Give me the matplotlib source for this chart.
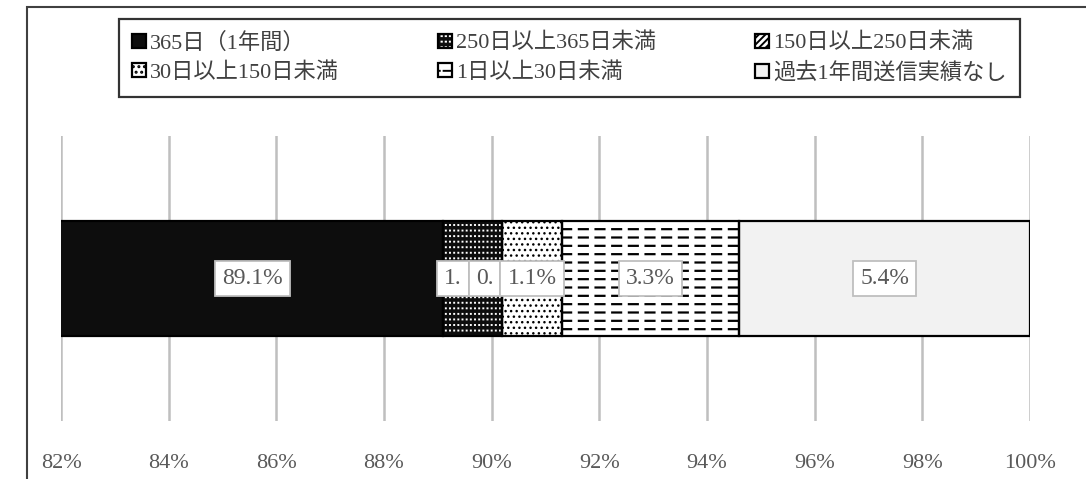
import matplotlib
matplotlib.use("Agg")
import matplotlib.pyplot as plt
from matplotlib.patches import Rectangle
from matplotlib.ticker import FuncFormatter

plt.rcParams['font.family'] = ['Liberation Serif', 'Noto Sans CJK JP']
plt.rcParams['hatch.linewidth'] = 1.4

# ----------------------------
# data: share of days per send-frequency bucket
# ----------------------------
categories = ['365日（1年間）', '250日以上365日未満', '150日以上250日未満',
              '30日以上150日未満', '1日以上30日未満', '過去1年間送信実績なし']
values = [89.1, 1.1, 0.0, 1.1, 3.3, 5.4]
label_text = ['89.1%', '1.', '0.', '1.1%', '3.3%', '5.4%']
x_ticks = [82, 84, 86, 88, 90, 92, 94, 96, 98, 100]
x_min, x_max = 82, 100

# fill colour and hatch layers (pattern, colour, hatch width) for each bucket
faces = ['#0d0d0d', '#0d0d0d', 'white', 'white', 'white', '#f2f2f2']
hatches = [
    [],
    [('---', 'white', 1.4), ('||||', '#0d0d0d', 1.6)],
    [('/////', 'black', 1.4)],
    [('...', 'black', 1.0)],
    [('--', 'black', 1.6), ('|', 'white', 4.0)],
    [],
]

fig = plt.figure(figsize=(10.86, 4.79), dpi=100)
W, H = 1086, 479
ax = fig.add_axes([61 / W, 1 - 421 / H, (1030 - 61) / W, (421 - 136) / H])

# outer chart frame (runs off the right and bottom edge)
fig.patches.append(Rectangle((27 / W, -0.1), 1.2, 1 - 7 / H + 0.1,
                             transform=fig.transFigure, fill=False,
                             edgecolor='#404040', linewidth=1.5, zorder=0))

bar_h = 0.4035
left = 0.0
handles = []
for i, v in enumerate(values):
    layers = []
    base = ax.barh(0, v, left=left, height=bar_h, color=faces[i],
                   linewidth=0, zorder=2)
    layers.append(base[0])
    for pat, col, hw in hatches[i]:
        with plt.rc_context({'hatch.linewidth': hw}):
            hb = ax.barh(0, v, left=left, height=bar_h, color='none',
                         edgecolor=col, hatch=pat, linewidth=0, zorder=3)
        layers.append(hb[0])
    ob = ax.barh(0, v, left=left, height=bar_h, color='none',
                 edgecolor='black', linewidth=1.6, zorder=4)
    layers.append(ob[0])
    handles.append(tuple(layers))
    left += v

# data labels centred on the visible part of each segment
label_objs = []
left = 0.0
for i, v in enumerate(values):
    lo = max(left, x_min)
    hi = min(left + v, x_max)
    t = ax.text((lo + hi) / 2, 0, label_text[i], ha='center', va='center',
                fontsize=17, color='#595959', zorder=6,
                bbox=dict(boxstyle='square,pad=0.3', facecolor='white',
                          edgecolor='#bfbfbf', linewidth=1.3))
    label_objs.append(t)
    left += v

ax.set_xlim(x_min, x_max)
ax.set_ylim(-0.5, 0.5)
ax.set_xticks(x_ticks)
ax.xaxis.set_major_formatter(FuncFormatter(lambda x, p: f'{x:.0f}%'))
ax.set_yticks([])
ax.tick_params(axis='x', length=0, pad=24, labelsize=16, labelcolor='#595959')
ax.grid(axis='x', color='#bfbfbf', linewidth=1.8, zorder=1)
ax.set_axisbelow(True)
for s in ax.spines.values():
    s.set_visible(False)

# legend reads row by row: reorder for matplotlib's column-wise fill
order = [0, 3, 1, 4, 2, 5]
leg = fig.legend([handles[k] for k in order], [categories[k] for k in order],
                 loc='lower left', ncol=3, mode='expand',
                 bbox_to_anchor=(119 / W, 1 - 97 / H, (1020 - 119) / W, 77 / H),
                 fontsize=16, frameon=True, fancybox=False, borderaxespad=0,
                 handlelength=0.6, handleheight=0.6, handletextpad=0.2,
                 borderpad=0.6, labelspacing=0.4, labelcolor='#404040')
leg.get_frame().set_edgecolor('black')
leg.get_frame().set_linewidth(1.6)

# push crowded labels to the left so their boxes don't overlap
fig.canvas.draw()
renderer = fig.canvas.get_renderer()
inv = ax.transData.inverted()
for i in range(len(label_objs) - 2, -1, -1):
    a = label_objs[i].get_bbox_patch().get_window_extent(renderer)
    b = label_objs[i + 1].get_bbox_patch().get_window_extent(renderer)
    overlap = a.x1 - b.x0
    if overlap > 0:
        x_pix, y_pix = ax.transData.transform(label_objs[i].get_position())
        nx, ny = inv.transform((x_pix - overlap, y_pix))
        label_objs[i].set_position((nx, ny))
        fig.canvas.draw()

fig.savefig('out.png', dpi=100)
